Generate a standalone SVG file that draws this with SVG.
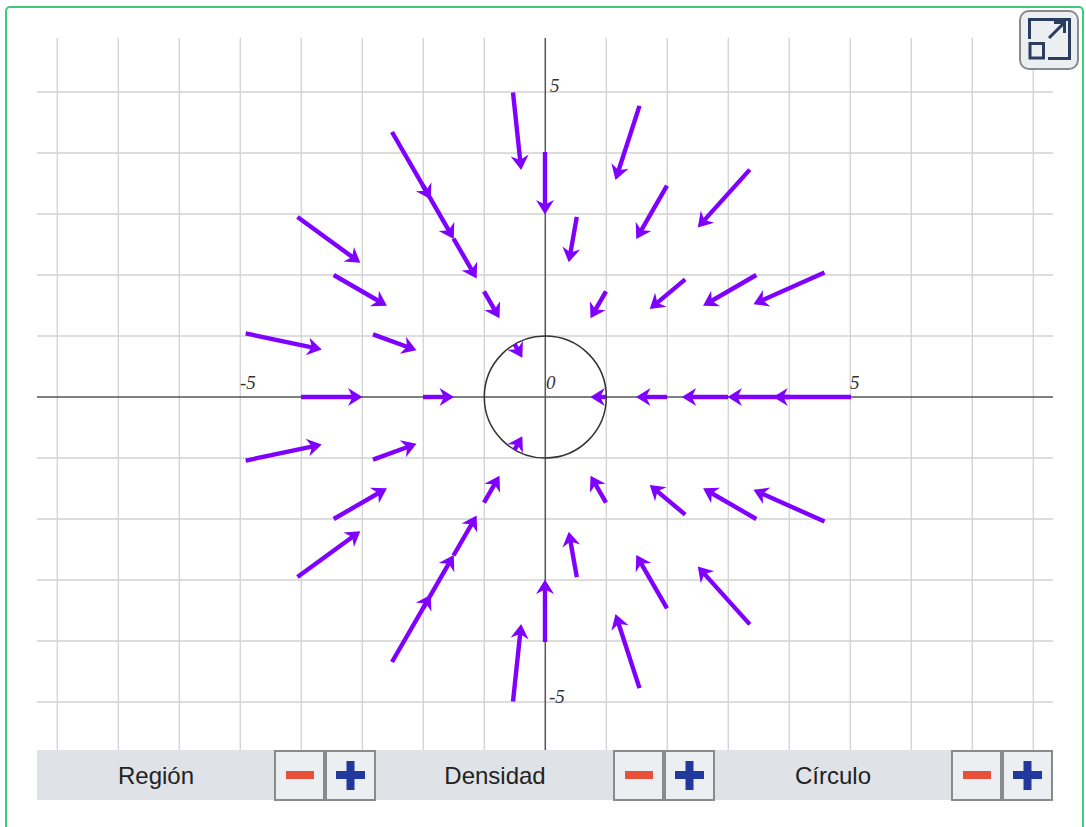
<svg xmlns="http://www.w3.org/2000/svg" width="1086" height="827" viewBox="0 0 1086 827">
<style>
.grid line{stroke:#d2d2d2;stroke-width:1.3}
.axis{stroke:#555;stroke-width:1.5}
.lbl{font-family:"Liberation Serif",serif;font-style:italic;font-size:19px;fill:#333}
.arrows line{stroke:#8000ff;stroke-width:4.4;marker-end:url(#ah)}
.btn{fill:#eceff1;stroke:#8a8a8a;stroke-width:2}
.minus{fill:#e8503a}
.plus{fill:#21399c}
.ctl{font-family:"Liberation Sans",Arial,sans-serif;font-size:24px;fill:#222;text-anchor:middle}
</style>
<defs>
<marker id="ah" markerUnits="userSpaceOnUse" markerWidth="20" markerHeight="20" refX="0" refY="0" orient="auto" overflow="visible">
<path d="M6.5,0 L-8,-9 L-3.5,0 L-8,9 Z" fill="#8000ff"/>
</marker>
</defs>
<rect x="0" y="0" width="1086" height="827" fill="#fff"/>
<rect x="6" y="7" width="1077" height="850" rx="4" fill="none" stroke="#3ecb7a" stroke-width="2"/>
<g id="grid" class="grid">
<line x1="57.3" y1="38" x2="57.3" y2="750"/>
<line x1="118.3" y1="38" x2="118.3" y2="750"/>
<line x1="179.3" y1="38" x2="179.3" y2="750"/>
<line x1="240.3" y1="38" x2="240.3" y2="750"/>
<line x1="301.3" y1="38" x2="301.3" y2="750"/>
<line x1="362.3" y1="38" x2="362.3" y2="750"/>
<line x1="423.3" y1="38" x2="423.3" y2="750"/>
<line x1="484.3" y1="38" x2="484.3" y2="750"/>
<line x1="606.3" y1="38" x2="606.3" y2="750"/>
<line x1="667.3" y1="38" x2="667.3" y2="750"/>
<line x1="728.3" y1="38" x2="728.3" y2="750"/>
<line x1="789.3" y1="38" x2="789.3" y2="750"/>
<line x1="850.3" y1="38" x2="850.3" y2="750"/>
<line x1="911.3" y1="38" x2="911.3" y2="750"/>
<line x1="972.3" y1="38" x2="972.3" y2="750"/>
<line x1="1033.3" y1="38" x2="1033.3" y2="750"/>
<line x1="37" y1="92" x2="1053" y2="92"/>
<line x1="37" y1="153" x2="1053" y2="153"/>
<line x1="37" y1="214" x2="1053" y2="214"/>
<line x1="37" y1="275" x2="1053" y2="275"/>
<line x1="37" y1="336" x2="1053" y2="336"/>
<line x1="37" y1="458" x2="1053" y2="458"/>
<line x1="37" y1="519" x2="1053" y2="519"/>
<line x1="37" y1="580" x2="1053" y2="580"/>
<line x1="37" y1="641" x2="1053" y2="641"/>
<line x1="37" y1="702" x2="1053" y2="702"/>
</g>
<g id="axes">
<line class="axis" x1="37" y1="397" x2="1053" y2="397"/>
<line class="axis" x1="545.3" y1="38" x2="545.3" y2="750"/>
<text class="lbl" x="550" y="92">5</text>
<text class="lbl" x="240" y="389">-5</text>
<text class="lbl" x="546" y="389">0</text>
<text class="lbl" x="850" y="389">5</text>
<text class="lbl" x="549" y="703">-5</text>
</g>
<circle id="unit-circle" cx="545.3" cy="397" r="61" fill="none" stroke="#333" stroke-width="1.5"/>
<g id="arrows" class="arrows">
<line x1="851" y1="397" x2="779.75" y2="397"/>
<line x1="824.5" y1="272.5" x2="759.4" y2="301.5"/>
<line x1="749.8" y1="169.6" x2="702.1" y2="222.6"/>
<line x1="639.5" y1="105.9" x2="617.5" y2="173.7"/>
<line x1="513" y1="92.5" x2="520.5" y2="163.5"/>
<line x1="392" y1="132" x2="427.6" y2="193.7"/>
<line x1="297.5" y1="217" x2="355.1" y2="259"/>
<line x1="245.7" y1="333.4" x2="315.4" y2="348.2"/>
<line x1="245.7" y1="460.6" x2="315.4" y2="445.8"/>
<line x1="297.5" y1="577" x2="355.1" y2="535"/>
<line x1="392" y1="662" x2="427.6" y2="600.3"/>
<line x1="513" y1="701.5" x2="520.5" y2="630.5"/>
<line x1="639.5" y1="688.1" x2="617.5" y2="620.3"/>
<line x1="749.8" y1="624.4" x2="702.1" y2="571.4"/>
<line x1="824.5" y1="521.5" x2="759.4" y2="492.5"/>
<line x1="789" y1="397" x2="734" y2="397"/>
<line x1="756.3" y1="275" x2="708.7" y2="302.5"/>
<line x1="667" y1="185.7" x2="639.5" y2="233.3"/>
<line x1="545" y1="152" x2="545" y2="208"/>
<line x1="423" y1="185.7" x2="450.5" y2="233.3"/>
<line x1="333.7" y1="275" x2="381.3" y2="302.5"/>
<line x1="301" y1="397" x2="356" y2="397"/>
<line x1="333.7" y1="519" x2="381.3" y2="491.5"/>
<line x1="423" y1="608.3" x2="450.5" y2="560.7"/>
<line x1="545" y1="642" x2="545" y2="586"/>
<line x1="667" y1="608.3" x2="639.5" y2="560.7"/>
<line x1="756.3" y1="519" x2="708.7" y2="491.5"/>
<line x1="728" y1="397" x2="688.25" y2="397"/>
<line x1="685.2" y1="279.4" x2="654.7" y2="304.9"/>
<line x1="576.8" y1="216.8" x2="569.9" y2="255.9"/>
<line x1="453.5" y1="238.5" x2="473.4" y2="272.9"/>
<line x1="373" y1="334.4" x2="410.4" y2="348"/>
<line x1="373" y1="459.6" x2="410.4" y2="446"/>
<line x1="453.5" y1="555.5" x2="473.4" y2="521.1"/>
<line x1="576.8" y1="577.2" x2="569.9" y2="538.1"/>
<line x1="685.2" y1="514.6" x2="654.7" y2="489.1"/>
<line x1="667" y1="397" x2="642.5" y2="397"/>
<line x1="606" y1="291.3" x2="593.75" y2="312.6"/>
<line x1="484" y1="291.3" x2="496.25" y2="312.6"/>
<line x1="423" y1="397" x2="447.5" y2="397"/>
<line x1="484" y1="502.7" x2="496.25" y2="481.4"/>
<line x1="606" y1="502.7" x2="593.75" y2="481.4"/>
<line x1="606" y1="397" x2="596.75" y2="397"/>
<line x1="514.5" y1="344.2" x2="519.1" y2="352.2"/>
<line x1="514.5" y1="449.8" x2="519.1" y2="441.8"/>
</g>
<g id="expand-button">
<rect x="1020" y="11" width="58" height="58" rx="9" fill="#eceff1" stroke="#8a8a8a" stroke-width="2"/>
<g fill="none" stroke="#2b3d5e" stroke-width="3">
<path d="M1029.5,39 V19.5 H1069.5 V58.5 H1048"/>
<rect x="1030" y="43.5" width="13.5" height="14.5"/>
<path d="M1049,38 L1063,24"/>
<path d="M1054,22.5 H1064.5 V33"/>
</g>
</g>
<rect id="control-bar" x="37" y="750" width="1016" height="50" fill="#dfe2e6"/>
<g id="ctl-region">
<text class="ctl" x="156" y="784">Región</text>
<rect class="btn" x="275" y="751" width="49" height="49"/>
<rect class="minus" x="286" y="771" width="28" height="8"/>
<rect class="btn" x="326" y="751" width="49" height="49"/>
<rect class="plus" x="336" y="771" width="29" height="8"/>
<rect class="plus" x="346.5" y="761" width="8" height="29"/>
</g>
<g id="ctl-densidad">
<text class="ctl" x="495" y="784">Densidad</text>
<rect class="btn" x="614" y="751" width="49" height="49"/>
<rect class="minus" x="625" y="771" width="28" height="8"/>
<rect class="btn" x="665" y="751" width="49" height="49"/>
<rect class="plus" x="675" y="771" width="29" height="8"/>
<rect class="plus" x="685.5" y="761" width="8" height="29"/>
</g>
<g id="ctl-circulo">
<text class="ctl" x="833" y="784">Círculo</text>
<rect class="btn" x="952" y="751" width="49" height="49"/>
<rect class="minus" x="963" y="771" width="28" height="8"/>
<rect class="btn" x="1003" y="751" width="49" height="49"/>
<rect class="plus" x="1013" y="771" width="29" height="8"/>
<rect class="plus" x="1023.5" y="761" width="8" height="29"/>
</g>
</svg>
